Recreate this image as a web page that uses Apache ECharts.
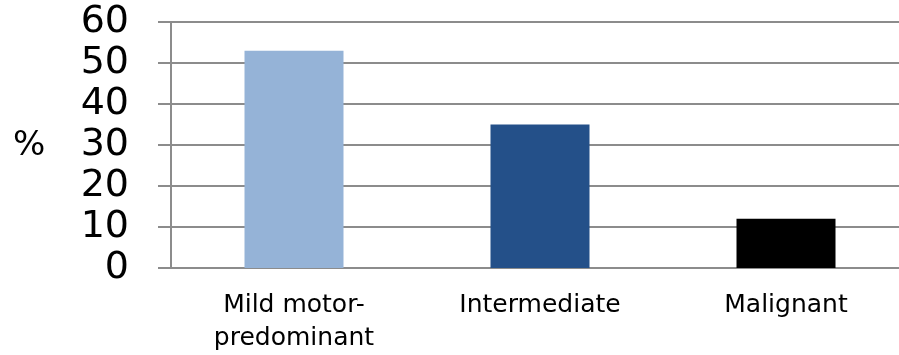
<!DOCTYPE html>
<html>
<head>
<meta charset="utf-8">
<script src="https://cdn.jsdelivr.net/npm/echarts@6/dist/echarts.min.js"></script>
<style>
  html, body { margin: 0; padding: 0; background: #fff; }
  #chart { width: 899px; height: 355px; }
</style>
</head>
<body>
<div id="chart"></div>
<script>
// 分类和数值
const categories = ['Mild motor-\npredominant', 'Intermediate', 'Malignant']
const percents = [53, 35, 12]
const barColors = ['#95B3D7', '#245089', '#000000']
const yTicks = [0, 10, 20, 30, 40, 50, 60]

const font = 'DejaVu Sans'
const gridGray = '#8c8c8c'

let chart = echarts.init(document.getElementById('chart'))
chart.setOption({
  animation: false,
  grid: {
    left: 171, top: 22, width: 738, height: 246,
    containLabel: false, outerBoundsMode: 'none'
  },
  graphic: [{
    type: 'text', left: 13, top: 129,
    style: { text: '%', fontFamily: font, fontSize: 34, fill: '#000' }
  }],
  xAxis: {
    type: 'category',
    data: categories,
    axisLine: { lineStyle: { color: gridGray, width: 2 } },
    axisTick: { length: 9, lineStyle: { color: gridGray, width: 2 } },
    axisLabel: {
      color: '#000', fontFamily: font, fontSize: 25, lineHeight: 33, margin: 21
    }
  },
  yAxis: {
    type: 'value',
    min: yTicks[0],
    max: yTicks[yTicks.length - 1],
    interval: 10,
    axisLine: { show: true, lineStyle: { color: gridGray, width: 2 } },
    axisTick: { show: true, length: 13, lineStyle: { color: gridGray, width: 2 } },
    splitLine: { lineStyle: { color: gridGray, width: 2 } },
    axisLabel: { color: '#000', fontFamily: font, fontSize: 38, margin: 42 }
  },
  series: [{
    type: 'bar',
    barWidth: 99,
    data: percents.map((v, i) => ({ value: v, itemStyle: { color: barColors[i] } }))
  }]
})
</script>
</body>
</html>
